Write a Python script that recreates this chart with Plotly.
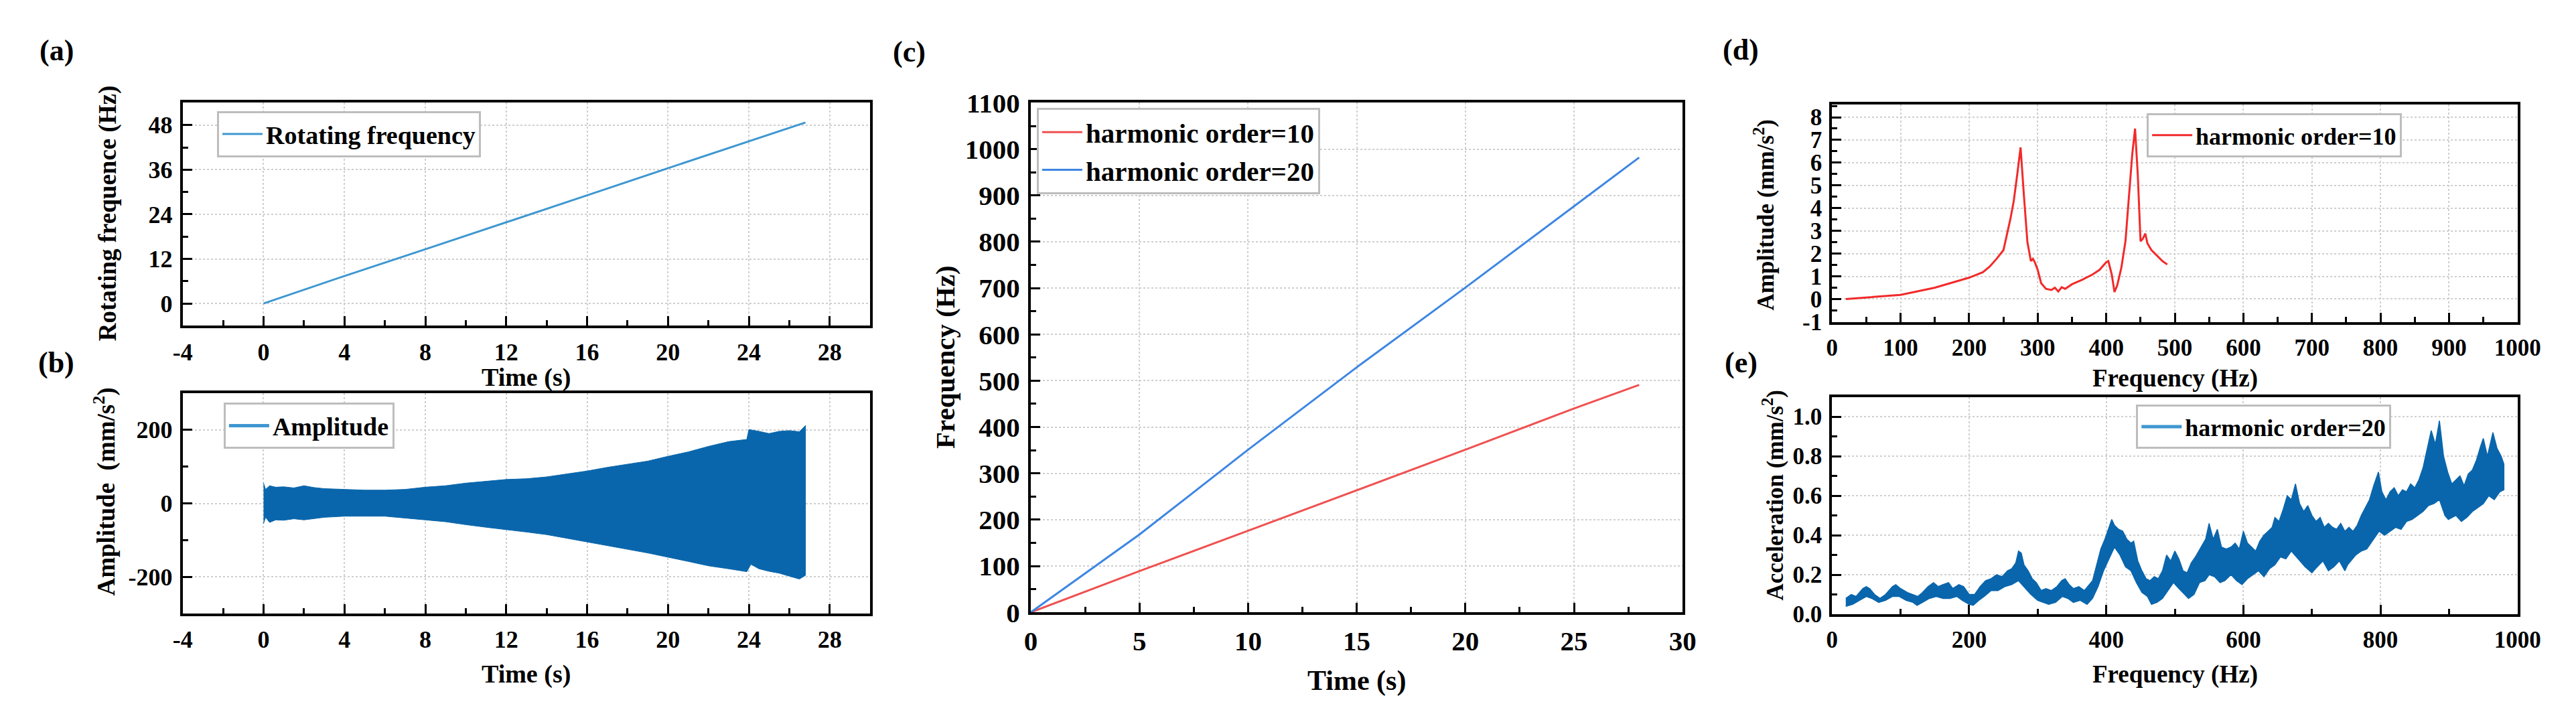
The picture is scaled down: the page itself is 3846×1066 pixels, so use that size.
import plotly.graph_objects as go

W, H = 3846, 1066
FONT = 'Liberation Serif'

# -------------------------
# DATA
# -------------------------
# (a) rotating frequency vs time
rot_time = [0, 4, 8, 12, 16, 20, 24, 26.8]
rot_freq = [0, 7.4, 14.6, 21.8, 29.1, 36.4, 43.6, 48.7]

# (b) vibration amplitude envelope vs time
amp_t_upper = [0, 0.1, 0.3, 0.6, 1, 1.5, 2, 2.5, 3, 3.5, 4, 5, 6, 7, 8, 9, 10, 11, 12, 13, 14, 15,
               16, 17, 18, 19, 20, 21, 22, 23, 23.9, 24.0, 24.5, 25, 25.5, 26, 26.5, 26.8]
amp_upper = [55, 38, 48, 44, 45, 42, 48, 43, 40, 39, 37, 36, 36, 38, 44, 48, 55, 60, 65, 67, 72, 80,
             88, 98, 106, 115, 128, 140, 155, 168, 174, 201, 196, 190, 196, 198, 195, 212]
amp_t_lower = [0, 0.1, 0.3, 0.6, 1, 1.5, 2, 3, 4, 5, 6, 7, 8, 9, 10, 11, 12, 13, 14, 15, 16, 17,
               18, 19, 20, 21, 22, 23, 23.9, 24.1, 24.5, 25, 25.5, 26, 26.5, 26.8]
amp_lower = [-55, -38, -52, -45, -46, -42, -45, -38, -35, -35, -35, -40, -45, -50, -58, -65, -72, -78,
             -85, -95, -105, -115, -125, -135, -146, -158, -170, -178, -186, -166, -178, -185, -190,
             -198, -206, -196]

# (c) harmonic frequencies vs time
harm_time = [0, 5, 10, 15, 20, 25, 28]
harm10_freq = [0, 89, 176, 263, 351, 440, 491]
harm20_freq = [0, 168, 351, 529, 701, 877, 982]

# (d) amplitude spectrum, harmonic order 10
spec10_freq = [20, 50, 100, 150, 200, 220, 230, 240, 250, 260, 265, 270, 275, 280, 285, 290, 293,
               296, 300, 305, 312, 320, 325, 330, 335, 340, 350, 365, 380, 390, 400, 403, 408, 412,
               416, 422, 428, 433, 438, 442, 446, 450, 453, 457, 460, 466, 474, 482, 489]
spec10_amp = [0.0, 0.07, 0.18, 0.5, 0.94, 1.18, 1.43, 1.77, 2.15, 3.5, 4.3, 5.45, 6.67, 4.5, 2.5,
              1.67, 1.77, 1.6, 1.28, 0.7, 0.45, 0.4, 0.5, 0.33, 0.52, 0.45, 0.65, 0.85, 1.08, 1.28,
              1.62, 1.67, 1.08, 0.31, 0.6, 1.38, 2.54, 4.48, 6.4, 7.5, 5.45, 2.54, 2.64, 2.88, 2.45,
              2.15, 1.91, 1.67, 1.52]

# (e) acceleration spectrum envelope, harmonic order 20
acc_f_upper = [20, 28, 35, 45, 50, 55, 62, 70, 78, 88, 93, 100, 110, 118, 125, 132, 140, 148, 155,
               162, 170, 176, 185, 192, 200, 208, 216, 224, 232, 240, 248, 256, 262, 268, 272, 276,
               280, 286, 292, 298, 305, 312, 320, 328, 335, 340, 346, 352, 360, 368, 375, 380, 386,
               392, 398, 404, 408, 412, 418, 424, 430, 436, 440, 446, 452, 458, 464, 470, 476, 482,
               488, 494, 500, 506, 512, 518, 524, 530, 538, 545, 550, 556, 562, 568, 575, 582, 588,
               594, 600, 606, 612, 618, 624, 630, 636, 642, 646, 652, 658, 664, 670, 676, 682, 688,
               694, 700, 706, 712, 718, 724, 730, 736, 742, 748, 754, 760, 766, 772, 778, 784, 790,
               797, 802, 808, 814, 820, 826, 832, 838, 844, 850, 856, 862, 868, 874, 880, 886, 892,
               898, 904, 910, 916, 922, 928, 934, 940, 946, 950, 956, 960, 964, 970, 976, 980]
acc_upper = [0.08, 0.10, 0.09, 0.13, 0.14, 0.13, 0.10, 0.08, 0.10, 0.14, 0.15, 0.13, 0.11, 0.10,
             0.09, 0.11, 0.14, 0.16, 0.14, 0.15, 0.16, 0.13, 0.15, 0.14, 0.10, 0.10, 0.14, 0.17,
             0.18, 0.20, 0.19, 0.22, 0.23, 0.26, 0.32, 0.31, 0.25, 0.22, 0.18, 0.16, 0.12, 0.13,
             0.12, 0.14, 0.17, 0.18, 0.15, 0.13, 0.14, 0.12, 0.15, 0.17, 0.25, 0.33, 0.38, 0.44,
             0.48, 0.45, 0.43, 0.42, 0.38, 0.36, 0.37, 0.27, 0.22, 0.18, 0.17, 0.19, 0.18, 0.22,
             0.30, 0.27, 0.32, 0.28, 0.22, 0.21, 0.26, 0.29, 0.34, 0.38, 0.46, 0.38, 0.43, 0.34,
             0.33, 0.34, 0.36, 0.33, 0.42, 0.36, 0.34, 0.32, 0.37, 0.40, 0.42, 0.44, 0.49, 0.47,
             0.53, 0.60, 0.58, 0.66, 0.56, 0.52, 0.55, 0.50, 0.47, 0.49, 0.44, 0.46, 0.44, 0.43,
             0.46, 0.42, 0.44, 0.42, 0.45, 0.50, 0.54, 0.58, 0.65, 0.72, 0.62, 0.58, 0.62, 0.64,
             0.60, 0.63, 0.62, 0.66, 0.64, 0.68, 0.74, 0.84, 0.93, 0.86, 0.98, 0.80, 0.72, 0.66,
             0.68, 0.70, 0.65, 0.71, 0.73, 0.78, 0.85, 0.89, 0.80, 0.86, 0.92, 0.84, 0.80, 0.76]
acc_f_lower = [20, 30, 40, 50, 58, 68, 78, 88, 98, 108, 118, 124, 132, 142, 152, 162, 172, 182, 190,
               200, 206, 214, 222, 232, 242, 252, 262, 272, 280, 290, 300, 308, 316, 326, 336, 344,
               352, 362, 372, 380, 388, 396, 404, 412, 420, 428, 436, 444, 452, 460, 466, 474, 482,
               490, 498, 506, 514, 520, 528, 536, 544, 550, 558, 566, 573, 582, 590, 598, 606, 614,
               622, 630, 638, 646, 654, 662, 670, 680, 690, 700, 705, 716, 724, 732, 740, 748, 752,
               764, 772, 780, 790, 798, 806, 814, 822, 830, 838, 846, 854, 862, 870, 878, 886, 894,
               899, 910, 918, 926, 934, 942, 950, 958, 966, 974, 980]
acc_lower = [0.04, 0.05, 0.07, 0.09, 0.08, 0.06, 0.07, 0.09, 0.09, 0.07, 0.06, 0.045, 0.06, 0.08,
             0.09, 0.08, 0.08, 0.09, 0.07, 0.05, 0.045, 0.07, 0.09, 0.12, 0.12, 0.14, 0.15, 0.17,
             0.14, 0.10, 0.07, 0.06, 0.05, 0.06, 0.09, 0.08, 0.06, 0.07, 0.05, 0.08, 0.14, 0.22,
             0.28, 0.34, 0.30, 0.24, 0.22, 0.16, 0.11, 0.09, 0.05, 0.06, 0.08, 0.12, 0.16, 0.13,
             0.10, 0.08, 0.10, 0.16, 0.17, 0.20, 0.19, 0.16, 0.17, 0.20, 0.17, 0.15, 0.18, 0.20,
             0.22, 0.19, 0.23, 0.25, 0.29, 0.28, 0.32, 0.28, 0.24, 0.21, 0.23, 0.27, 0.22, 0.24,
             0.27, 0.22, 0.25, 0.30, 0.32, 0.33, 0.38, 0.42, 0.40, 0.42, 0.44, 0.43, 0.47, 0.48,
             0.50, 0.52, 0.55, 0.56, 0.58, 0.50, 0.48, 0.50, 0.47, 0.49, 0.52, 0.54, 0.56, 0.60,
             0.58, 0.62, 0.63]

LIGHT_BLUE = '#3E97D1'
DARK_BLUE = '#0A66AC'
RED_C = '#F05050'
BLUE_C = '#3D86E2'
RED_D = '#F22A2A'


def px_x(p):
    return p / W


def px_y(p):
    return 1 - p / H


fig = go.Figure()

# (a)
fig.add_trace(go.Scatter(x=rot_time, y=rot_freq, mode='lines', name='Rotating frequency',
                         line=dict(color=LIGHT_BLUE, width=3), xaxis='x', yaxis='y',
                         legend='legend'))

# (b) dense signal drawn as its envelope band
fig.add_trace(go.Scatter(x=amp_t_upper + amp_t_lower[::-1], y=amp_upper + amp_lower[::-1],
                         fill='toself', fillcolor=DARK_BLUE, mode='lines',
                         line=dict(color=DARK_BLUE, width=1), showlegend=False,
                         xaxis='x2', yaxis='y2'))
fig.add_trace(go.Scatter(x=[None], y=[None], mode='lines', name='Amplitude',
                         line=dict(color=LIGHT_BLUE, width=5), xaxis='x2', yaxis='y2',
                         legend='legend2'))

# (c)
fig.add_trace(go.Scatter(x=harm_time, y=harm10_freq, mode='lines', name='harmonic order=10',
                         line=dict(color=RED_C, width=3), xaxis='x3', yaxis='y3', legend='legend3'))
fig.add_trace(go.Scatter(x=harm_time, y=harm20_freq, mode='lines', name='harmonic order=20',
                         line=dict(color=BLUE_C, width=3), xaxis='x3', yaxis='y3', legend='legend3'))

# (d)
fig.add_trace(go.Scatter(x=spec10_freq, y=spec10_amp, mode='lines', name='harmonic order=10',
                         line=dict(color=RED_D, width=3), xaxis='x4', yaxis='y4', legend='legend4'))

# (e) noisy spectrum drawn as its envelope band
fig.add_trace(go.Scatter(x=acc_f_upper + acc_f_lower[::-1], y=acc_upper + acc_lower[::-1],
                         fill='toself', fillcolor=DARK_BLUE, mode='lines',
                         line=dict(color=DARK_BLUE, width=1.5), showlegend=False,
                         xaxis='x5', yaxis='y5'))
fig.add_trace(go.Scatter(x=[None], y=[None], mode='lines', name='harmonic order=20',
                         line=dict(color=LIGHT_BLUE, width=5), xaxis='x5', yaxis='y5',
                         legend='legend5'))


def axis(domain, rng, dtick, minor_dtick, anchor, size=36, tickvals=None, ticktext=None):
    d = dict(
        domain=domain, range=rng, dtick=dtick, tick0=0, anchor=anchor,
        showline=True, linecolor='black', linewidth=4, mirror=True,
        ticks='inside', ticklen=14, tickwidth=3, tickcolor='black',
        minor=dict(ticks='inside', ticklen=8, tickwidth=3, tickcolor='black', dtick=minor_dtick,
                   tick0=0, showgrid=False),
        showgrid=True, gridcolor='#CFCFCF', gridwidth=2, griddash='dot',
        zeroline=False, ticklabelstandoff=4,
        tickfont=dict(family=FONT, size=size, color='black', weight='bold'),
    )
    if tickvals is not None:
        d['tickvals'] = tickvals
        d['ticktext'] = ticktext
    return d


xa = [px_x(253), px_x(1293)]
xc = [px_x(1536), px_x(2522)]
xd = [px_x(2748), px_x(3785)]

time_vals = [-4, 0, 4, 8, 12, 16, 20, 24, 28]
time_text = ['-4', '0', '4', '8', '12', '16', '20', '24', '28']

fig.update_layout(
    xaxis=axis(xa, [-4, 30], 4, 2, 'y', tickvals=time_vals, ticktext=time_text),
    yaxis=axis([px_y(476), px_y(128)], [-6, 54], 12, 6, 'x'),
    xaxis2=axis(xa, [-4, 30], 4, 2, 'y2', tickvals=time_vals, ticktext=time_text),
    yaxis2=axis([px_y(925), px_y(581)], [-300, 300], 200, 100, 'x2',
                tickvals=[-200, 0, 200], ticktext=['-200', '0', '200']),
    xaxis3=axis(xc, [0, 30], 5, 2.5, 'y3', size=41),
    yaxis3=axis([px_y(923), px_y(128)], [0, 1100], 100, 50, 'x3', size=41),
    xaxis4=axis(xd, [0, 1000], 100, 50, 'y4', size=35),
    yaxis4=axis([px_y(470), px_y(131)], [-1.01, 8.55], 1, 0.5, 'x4', size=35,
                tickvals=[-1, 0, 1, 2, 3, 4, 5, 6, 7, 8],
                ticktext=['-1', '0', '1', '2', '3', '4', '5', '6', '7', '8']),
    xaxis5=axis(xd, [0, 1000], 200, 100, 'y5', size=35),
    yaxis5=axis([px_y(926), px_y(587)], [0, 1.1], 0.2, 0.1, 'x5', size=35),
)
fig.update_layout(yaxis5_tickformat='.1f')

LEG = dict(xanchor='left', yanchor='top', bgcolor='white', bordercolor='#BDBDBD', borderwidth=3,
           font=dict(family=FONT, size=38, color='black', weight='bold'), itemwidth=60,
           tracegroupgap=0)
fig.update_layout(
    legend=dict(LEG, x=px_x(305), y=px_y(141)),
    legend2=dict(LEG, x=px_x(315), y=px_y(596)),
    legend3=dict(LEG, x=px_x(1545), y=px_y(136), font=dict(family=FONT, size=41, color='black',
                                                             weight='bold')),
    legend4=dict(LEG, x=px_x(3224), y=px_y(144), font=dict(family=FONT, size=36, color='black',
                                                             weight='bold')),
    legend5=dict(LEG, x=px_x(3208), y=px_y(599), font=dict(family=FONT, size=36, color='black',
                                                             weight='bold')),
)

# axis titles and panel letters
notes = [
    ('Rotating frequence (Hz)', 140, 300, -90, 37),
    ('Time (s)', 773, 556, 0, 38),
    ('Amplitude  (mm/s<sup>2</sup>)', 136, 735, -90, 37),
    ('Time (s)', 773, 1020, 0, 38),
    ('Frequency (Hz)', 1407, 525, -90, 41),
    ('Time (s)', 2029, 1030, 0, 42),
    ('Amplitude (mm/s<sup>2</sup>)', 2646, 303, -90, 35),
    ('Frequency (Hz)', 3267, 558, 0, 37),
    ('Acceleration (mm/s<sup>2</sup>)', 2659, 740, -90, 35),
    ('Frequency (Hz)', 3267, 1020, 0, 37),
    ('(a)', 62, 47, 0, 44),
    ('(b)', 62, 533, 0, 44),
    ('(c)', 1352, 49, 0, 44),
    ('(d)', 2610, 45, 0, 44),
    ('(e)', 2610, 533, 0, 44),
]
for text, x, y, ang, size in notes:
    fig.add_annotation(text=text, x=px_x(x), y=px_y(y), xref='paper', yref='paper',
                       xanchor='center', yanchor='middle', textangle=ang, showarrow=False,
                       font=dict(family=FONT, size=size, color='black', weight='bold'))

fig.update_layout(
    width=W, height=H,
    margin=dict(l=0, r=0, t=0, b=0),
    paper_bgcolor='white', plot_bgcolor='white',
    showlegend=True,
)

fig.write_html("out.html")
